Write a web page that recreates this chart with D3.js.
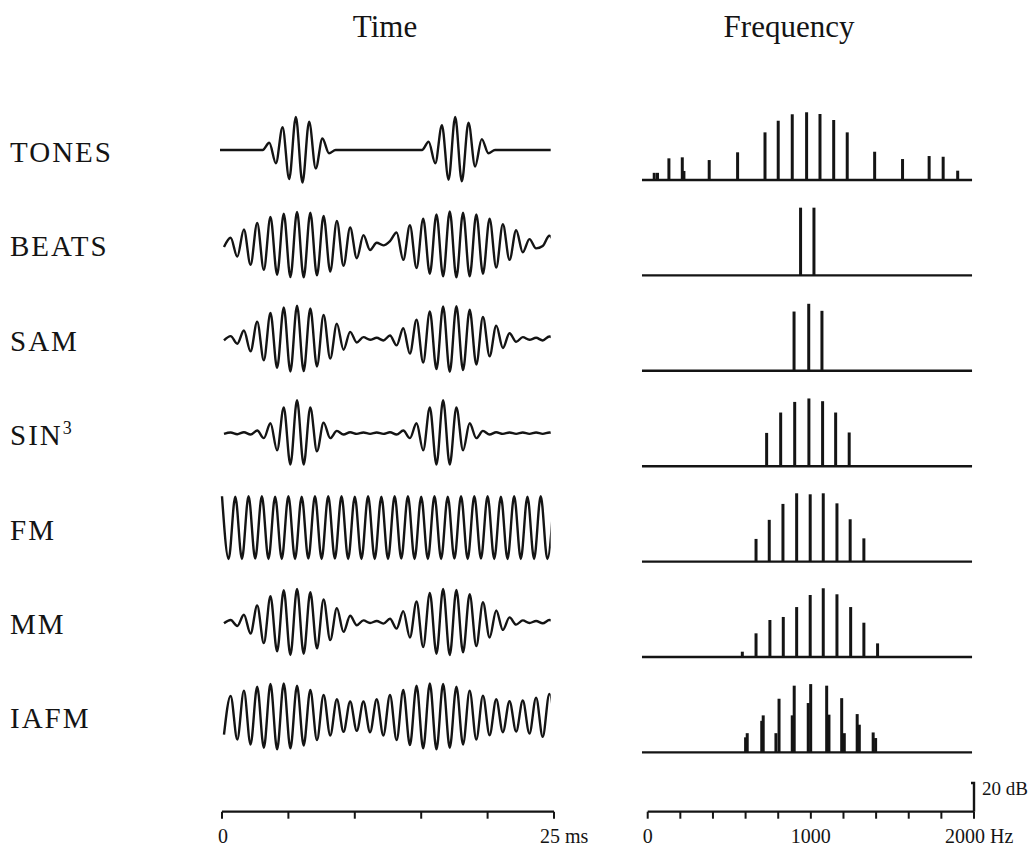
<!DOCTYPE html>
<html>
<head>
<meta charset="utf-8">
<script src="https://cdn.jsdelivr.net/npm/d3@7"></script>
<style>
  body { margin: 0; background: #fff; }
  text { font-family: "Liberation Serif", "Times New Roman", serif; fill: #141414; }
</style>
</head>
<body>
<svg id="fig" width="1034" height="847"></svg>
<script>
// ---- stimulus names and panel titles ----
const stimuli = ["TONES", "BEATS", "SAM", "SIN3", "FM", "MM", "IAFM"];
const panelTitles = ["Time", "Frequency"];

// ---- axes ----
const timeTicks = [0, 5, 10, 15, 20, 25];
const timeTickLabels = [["0", 0], ["25 ms", 25]];
const freqTicks = [0, 200, 400, 600, 800, 1000, 1200, 1400, 1600, 1800, 2000];
const freqTickLabels = [["0", 0], ["1000", 1000], ["2000 Hz", 2000]];
const levelBar = 20; // dB

// ---- waveforms: successive extrema (% of full scale), one per half carrier cycle ----
const HALF_CYCLE_MS = 0.5;
const traceSpan = [-0.15, 24.75]; // ms

const tonesFirst = -0.44;
const tonesWave = [0, 0, 0, 0, 0, 0, 0, 0,
  22, -40, 69, -88, 100, -99, 86, -56, 35, -10,
  0, 0, 0, 0, 0, 0, 0, 0, 0, 0, 0, 0, 0, 0,
  25, -40, 75, -90, 100, -95, 83, -50, 33, -10,
  0, 0, 0, 0, 0, 0, 0, 0, 0, 0];

const beatsFirst = 0.15;
const beatsWave = [-8, 20, -37, 45, -62, 65, -77, 83, -92, 93, -99, 98, -100, 96, -94, 86, -82, 71, -65,
  51, -42, 28, -17, 5, -3, 10, 36, -47, 58, -72, 78, -89, 91, -97, 100, -100, 96, -97, 91, -89, 78,
  -70, 61, -47, 43, -24, 16, -12, -5, 26, -10];

const samFirst = 0.15;
const samWave = [-5, 8, -15, 25, -38, 52, -65, 78, -88, 95, -99, 100, -98, 92, -84, 72, -60, 46, -33,
  21, -11, 5, -3, 3, -5, 10, -20, 32, -45, 58, -72, 83, -92, 98, -100, 99, -95, 88, -78, 66, -53,
  40, -28, 17, -9, 5, -3, 3, -5, 7, -4];

const sin3First = 0.15;
const sin3Wave = [-2, 2, -3, 3, -4, 8, -15, 30, -52, 78, -95, 100, -95, 78, -55, 32, -15, 7, -4, 3,
  -2, 2, -2, 2, -2, 3, -4, 8, -15, 30, -52, 78, -95, 100, -95, 78, -52, 30, -15, 7, -4, 3, -2, 2,
  -2, 2, -2, 2, -2, 2, -2];

const fmFirst = 0.0;
const fmWave = [95, -95, 94, -95, 95, -94, 95, -95, 94, -95, 95, -95, 94, -94, 95, -95, 95, -94, 95,
  -95, 94, -95, 95, -95, 94, -95, 95, -94, 95, -95, 94, -95, 95, -95, 94, -94, 95, -95, 95, -94,
  95, -95, 94, -95, 95, -95, 94, -95, 95, -95, 94];

const mmFirst = 0.15;
const mmWave = [-4, 6, -12, 22, -35, 50, -64, 78, -89, 96, -100, 100, -96, 90, -80, 68, -55, 42,
  -30, 19, -10, 5, -3, 3, -5, 10, -20, 33, -47, 62, -76, 88, -96, 100, -100, 97, -92, 84, -73, 60,
  -47, 35, -24, 14, -8, 5, -3, 3, -4, 6, -3];

const iafmFirst = 0.15;
const iafmWave = [-55, 62, -70, 78, -85, 90, -95, 98, -100, 100, -97, 93, -88, 80, -72, 65, -58, 52,
  -47, 45, -44, 45, -48, 52, -58, 65, -72, 80, -87, 93, -97, 100, -100, 98, -95, 90, -85, 78, -70,
  63, -57, 52, -48, 46, -46, 48, -52, 57, -62, 68, -70];

// ---- spectra: [frequency (Hz), level (dB above floor)] ----
const tonesSpectrum = [[40, 5], [60, 5], [130, 15.1], [212, 15.8], [222, 6.3], [377, 13.9], [551, 19.3],
  [719, 33.2], [800, 41.3], [886, 45.8], [974, 47.2], [1056, 46.0], [1140, 41.8], [1223, 33.2],
  [1391, 19.7], [1562, 14.6], [1725, 16.7], [1811, 16.2], [1900, 6.5]];
const beatsSpectrum = [[937, 47.2], [1019, 47.2]];
const samSpectrum = [[897, 41.3], [987, 46.7], [1068, 41.8]];
const sin3Spectrum = [[729, 23.2], [815, 37.4], [901, 44.8], [988, 47.2], [1072, 45.3], [1152, 37.4],
  [1235, 23.5]];
const fmSpectrum = [[664, 15.8], [745, 29.1], [829, 40.2], [913, 47.6], [996, 46.9], [1076, 47.6],
  [1160, 40.6], [1241, 29.5], [1325, 16.2]];
const mmSpectrum = [[580, 3.7], [664, 16.5], [749, 25.8], [831, 27.9], [913, 34.8], [996, 43.2],
  [1076, 47.9], [1160, 43.7], [1244, 34.8], [1325, 23.9], [1409, 9.5]];
const iafmSpectrum = [[600, 10.5], [610, 13.4], [699, 22], [708, 25.8], [786, 13.4], [805, 37.4],
  [886, 25.8], [898, 46.5], [984, 34.4], [999, 47.6], [1097, 46.5], [1111, 26.3], [1189, 37.8],
  [1205, 13.4], [1284, 26.7], [1297, 19.3], [1382, 13.9], [1397, 10]];

const waves = [
  [tonesFirst, tonesWave], [beatsFirst, beatsWave], [samFirst, samWave], [sin3First, sin3Wave],
  [fmFirst, fmWave], [mmFirst, mmWave], [iafmFirst, iafmWave]
];
const spectra = [tonesSpectrum, beatsSpectrum, samSpectrum, sin3Spectrum, fmSpectrum, mmSpectrum,
  iafmSpectrum];

// ---- layout ----
const svg = d3.select("#fig");
const ink = "#141414";
const tx = d3.scaleLinear().domain([0, 25]).range([222, 554]);
const fx = d3.scaleLinear().domain([0, 2000]).range([647.7, 974]);
const rowStepT = 94.4, rowTopT = 150;
const rowStepF = 95.4, rowTopF = 180;
const dBpx = 28.7 / 20;
const axisY = 811.7;

// panel titles
svg.append("text").attr("x", 385).attr("y", 37).attr("text-anchor", "middle")
  .attr("font-size", 31).text(panelTitles[0]);
svg.append("text").attr("x", 789).attr("y", 37).attr("text-anchor", "middle")
  .attr("font-size", 31).text(panelTitles[1]);

// clip region for the time traces
svg.append("clipPath").attr("id", "traceClip").append("rect")
  .attr("x", tx(traceSpan[0])).attr("y", 0)
  .attr("width", tx(traceSpan[1]) - tx(traceSpan[0])).attr("height", 847);

stimuli.forEach((name, i) => {
  const cy = rowTopT + i * rowStepT;
  const base = rowTopF + i * rowStepF;

  // row label
  const lab = svg.append("text").attr("x", 10).attr("y", cy + 12).attr("font-size", 29)
    .attr("letter-spacing", 2);
  if (name === "SIN3") {
    lab.append("tspan").text("SIN");
    lab.append("tspan").attr("font-size", 18).attr("dy", -11).text("3");
  } else {
    lab.text(name);
  }

  // waveform
  const [t0, vals] = waves[i];
  const ya = d3.scaleLinear().domain([-100, 100]).range([cy + 33, cy - 33]);
  const pts = vals.map((v, k) => [t0 + k * HALF_CYCLE_MS, v]);
  const line = d3.line().x(d => tx(d[0])).y(d => ya(d[1])).curve(d3.curveMonotoneX);
  svg.append("path").attr("d", line(pts)).attr("fill", "none").attr("stroke", ink)
    .attr("stroke-width", 2.4).attr("clip-path", "url(#traceClip)");

  // spectrum floor and components
  const ys = d3.scaleLinear().domain([0, 20]).range([base, base - 20 * dBpx]);
  svg.append("line").attr("x1", fx(-35)).attr("x2", fx(1988)).attr("y1", base).attr("y2", base)
    .attr("stroke", ink).attr("stroke-width", 2.4);
  svg.append("g").selectAll("line").data(spectra[i]).join("line")
    .attr("x1", d => fx(d[0])).attr("x2", d => fx(d[0]))
    .attr("y1", base).attr("y2", d => ys(d[1]))
    .attr("stroke", ink).attr("stroke-width", 3);
});

// time axis
const tAxis = svg.append("g");
tAxis.append("line").attr("x1", tx(0)).attr("x2", tx(25)).attr("y1", axisY).attr("y2", axisY)
  .attr("stroke", ink).attr("stroke-width", 2.2);
tAxis.selectAll("line.tick").data(timeTicks).join("line").attr("class", "tick")
  .attr("x1", d => tx(d)).attr("x2", d => tx(d)).attr("y1", axisY).attr("y2", axisY + 7)
  .attr("stroke", ink).attr("stroke-width", 2);
tAxis.selectAll("text").data(timeTickLabels).join("text")
  .attr("x", d => tx(d[1]) + (d[1] === 0 ? -4 : -14)).attr("y", axisY + 31)
  .attr("font-size", 20).text(d => d[0]);

// frequency axis
const fAxis = svg.append("g");
fAxis.append("line").attr("x1", fx(0)).attr("x2", fx(2000)).attr("y1", axisY).attr("y2", axisY)
  .attr("stroke", ink).attr("stroke-width", 2.2);
fAxis.selectAll("line.tick").data(freqTicks).join("line").attr("class", "tick")
  .attr("x1", d => fx(d)).attr("x2", d => fx(d)).attr("y1", axisY).attr("y2", axisY + 7)
  .attr("stroke", ink).attr("stroke-width", 2);
fAxis.selectAll("text").data(freqTickLabels).join("text")
  .attr("x", d => d[1] === 2000 ? fx(d[1]) - 29 : fx(d[1]))
  .attr("text-anchor", d => d[1] === 2000 ? "start" : "middle")
  .attr("y", axisY + 31).attr("font-size", 20).text(d => d[0]);

// 20 dB level bar
fAxis.append("path")
  .attr("d", `M${fx(2000) - 3},${axisY - levelBar * dBpx}H${fx(2000)}V${axisY}`)
  .attr("fill", "none").attr("stroke", ink).attr("stroke-width", 2.4);
fAxis.append("text").attr("x", fx(2000) + 8).attr("y", axisY - levelBar * dBpx + 12)
  .attr("font-size", 19).text(levelBar + " dB");
</script>
</body>
</html>
